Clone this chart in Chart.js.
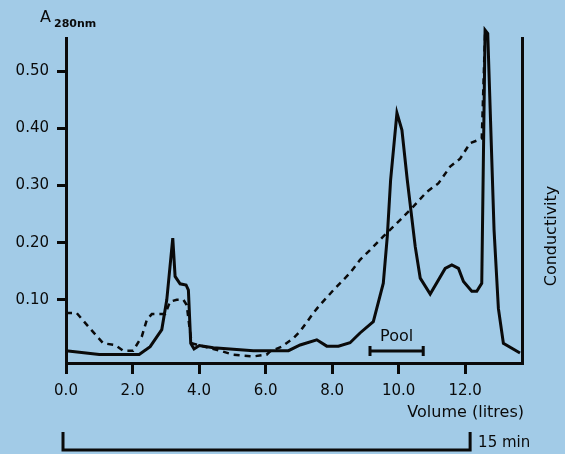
<!DOCTYPE html>
<html>
<head>
<meta charset="utf-8">
<script src="https://cdn.jsdelivr.net/npm/chart.js@4/dist/chart.umd.min.js"></script>
<style>
  html, body { margin: 0; padding: 0; background: #a2cbe7; }
  #chart { display: block; }
</style>
</head>
<body>
<canvas id="chart" width="565" height="454"></canvas>
<script>
// Absorbance (solid line)
const absVolume = [0, 1.0, 2.2, 2.53, 2.88, 3.03, 3.21, 3.28, 3.43, 3.61, 3.68, 3.75, 3.85, 4.01, 4.43, 5.63, 6.69, 7.04, 7.54, 7.84, 8.19, 8.54, 8.84, 9.24, 9.54, 9.66, 9.76, 9.95, 10.1, 10.26, 10.5, 10.65, 10.95, 11.4, 11.6, 11.8, 11.95, 12.2, 12.35, 12.5, 12.6, 12.68, 12.87, 13.0, 13.15, 13.65];
const absValues = [0.011, 0.0045, 0.0045, 0.018, 0.048, 0.100, 0.208, 0.141, 0.128, 0.126, 0.117, 0.024, 0.014, 0.020, 0.016, 0.011, 0.011, 0.021, 0.030, 0.019, 0.019, 0.025, 0.042, 0.062, 0.129, 0.211, 0.310, 0.427, 0.397, 0.310, 0.193, 0.138, 0.110, 0.155, 0.161, 0.155, 0.132, 0.115, 0.115, 0.129, 0.572, 0.566, 0.222, 0.085, 0.024, 0.007];

// Conductivity (dashed line)
const condVolume = [0, 0.32, 0.72, 1.12, 1.47, 1.72, 2.02, 2.28, 2.43, 2.58, 2.98, 3.13, 3.33, 3.53, 3.63, 3.71, 3.78, 4.63, 5.03, 5.63, 6.03, 6.14, 6.48, 6.84, 7.04, 7.44, 7.59, 8.04, 8.54, 8.84, 9.14, 9.54, 10.05, 10.44, 10.85, 11.2, 11.55, 11.85, 12.15, 12.5, 12.6];
const condValues = [0.077, 0.077, 0.050, 0.024, 0.021, 0.011, 0.011, 0.036, 0.065, 0.075, 0.075, 0.097, 0.100, 0.100, 0.091, 0.053, 0.024, 0.011, 0.004, 0.001, 0.004, 0.010, 0.018, 0.033, 0.045, 0.077, 0.088, 0.117, 0.147, 0.170, 0.187, 0.211, 0.240, 0.263, 0.289, 0.304, 0.333, 0.347, 0.374, 0.382, 0.566];

const xTicks = [0, 2, 4, 6, 8, 10, 12];
const yTicks = [0.1, 0.2, 0.3, 0.4, 0.5];
const poolRange = [9.14, 10.74];
const timeRange = [-0.09, 12.15];

const FONT = '"DejaVu Sans", sans-serif';
const INK = '#0a0a0a';

function toPoints(xs, ys) {
    return xs.map((x, i) => ({ x: x, y: ys[i] }));
}

// extra labels and brackets
const annotations = {
    id: 'annotations',
    afterDraw(chart) {
        const ctx = chart.ctx;
        const xs = chart.scales.x;
        ctx.save();
        ctx.fillStyle = INK;
        ctx.strokeStyle = INK;
        ctx.lineWidth = 3;

        // y axis title: A280nm
        ctx.font = '16px ' + FONT;
        ctx.textBaseline = 'alphabetic';
        ctx.textAlign = 'left';
        ctx.fillText('A', 40, 22);
        ctx.font = 'bold 11px ' + FONT;
        ctx.fillText('280nm', 54, 27);

        // pool bracket
        const p0 = xs.getPixelForValue(poolRange[0]);
        const p1 = xs.getPixelForValue(poolRange[1]);
        ctx.beginPath();
        ctx.moveTo(p0, 351); ctx.lineTo(p1, 351);
        ctx.moveTo(p0, 346); ctx.lineTo(p0, 356);
        ctx.moveTo(p1, 346); ctx.lineTo(p1, 356);
        ctx.stroke();
        ctx.font = '16px ' + FONT;
        ctx.textAlign = 'center';
        ctx.textBaseline = 'middle';
        ctx.fillText('Pool', (p0 + p1) / 2, 337);

        // x axis title
        ctx.textAlign = 'right';
        ctx.font = '16px ' + FONT;
        ctx.fillText('Volume (litres)', chart.chartArea.right + 2, 413);

        // time bracket
        const t0 = xs.getPixelForValue(timeRange[0]);
        const t1 = xs.getPixelForValue(timeRange[1]);
        ctx.beginPath();
        ctx.moveTo(t0, 432); ctx.lineTo(t0, 450); ctx.lineTo(t1, 450); ctx.lineTo(t1, 432);
        ctx.stroke();
        ctx.textAlign = 'left';
        ctx.font = '15px ' + FONT;
        ctx.fillText('15 min', t1 + 8, 443);

        // right axis title
        ctx.translate(552, 236);
        ctx.rotate(-Math.PI / 2);
        ctx.textAlign = 'center';
        ctx.font = '16px ' + FONT;
        ctx.fillText('Conductivity', 0, 0);
        ctx.restore();
    }
};

new Chart(document.getElementById('chart').getContext('2d'), {
    type: 'line',
    data: {
        datasets: [{
            label: 'Absorbance',
            data: toPoints(absVolume, absValues),
            borderColor: INK,
            borderWidth: 3,
            pointRadius: 0,
            tension: 0,
            clip: false
        }, {
            label: 'Conductivity',
            data: toPoints(condVolume, condValues),
            borderColor: INK,
            borderWidth: 2.5,
            borderDash: [6, 5],
            pointRadius: 0,
            tension: 0,
            clip: false
        }]
    },
    options: {
        responsive: false,
        devicePixelRatio: 1,
        animation: false,
        layout: { padding: { top: 38, left: 0, right: 0, bottom: 0 } },
        plugins: {
            legend: { display: false },
            tooltip: { enabled: false }
        },
        scales: {
            x: {
                type: 'linear',
                min: 0,
                max: 13.71,
                afterBuildTicks: (scale) => { scale.ticks = xTicks.map(v => ({ value: v })); },
                afterFit: (scale) => { scale.height = 91; },
                border: { display: true, color: INK, width: 3 },
                grid: { drawOnChartArea: false, drawTicks: true, tickLength: 11, color: INK, lineWidth: 3 },
                ticks: {
                    color: INK,
                    padding: 8,
                    maxRotation: 0,
                    font: { family: FONT, size: 15 },
                    callback: (v) => Number(v).toFixed(1)
                }
            },
            y: {
                type: 'linear',
                min: -0.0105,
                max: 0.558,
                afterBuildTicks: (scale) => { scale.ticks = yTicks.map(v => ({ value: v })); },
                afterFit: (scale) => { scale.width = 66; },
                border: { display: true, color: INK, width: 3 },
                grid: { drawOnChartArea: false, drawTicks: true, tickLength: 9, color: INK, lineWidth: 3 },
                ticks: {
                    color: INK,
                    padding: 8,
                    font: { family: FONT, size: 15 },
                    callback: (v) => Number(v).toFixed(2)
                }
            },
            y2: {
                type: 'linear',
                position: 'right',
                min: 0,
                max: 1,
                afterFit: (scale) => { scale.width = 43; },
                border: { display: true, color: INK, width: 3 },
                grid: { drawOnChartArea: false, drawTicks: false },
                ticks: { display: false }
            }
        }
    },
    plugins: [annotations]
});
</script>
</body>
</html>
